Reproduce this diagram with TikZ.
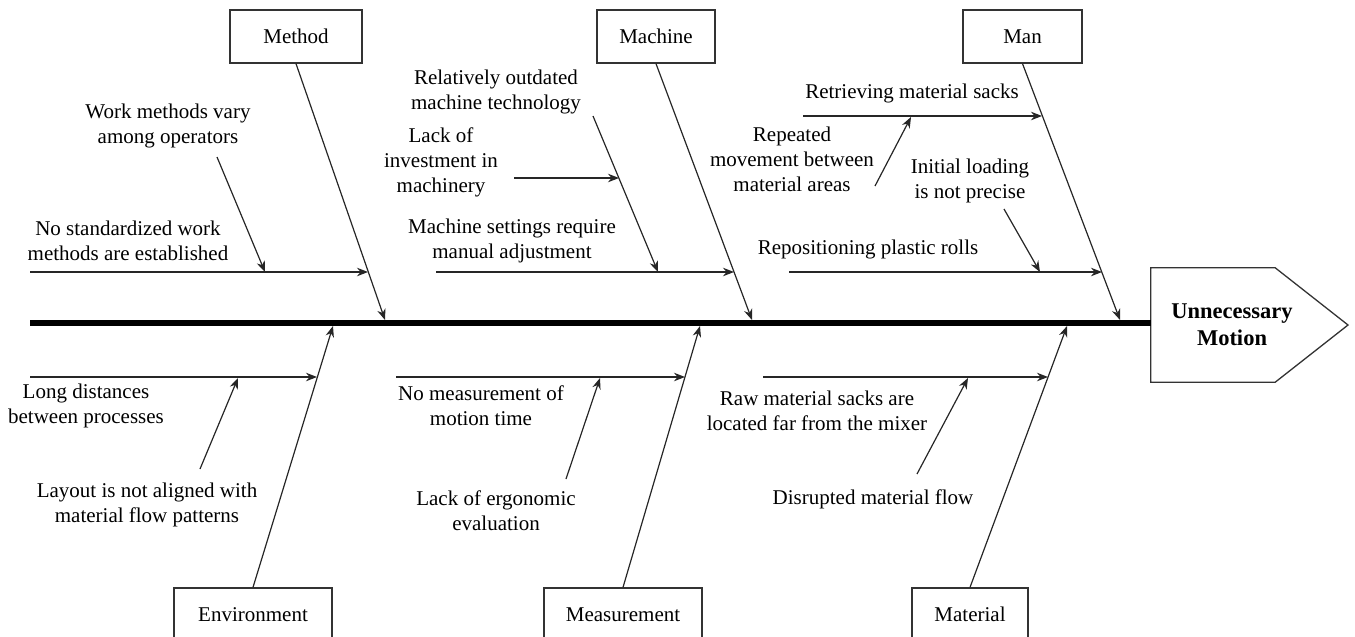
\documentclass[tikz,border=0pt]{standalone}
\usepackage{fontspec}
\setmainfont{Liberation Serif}
\usetikzlibrary{arrows.meta}
\begin{document}
\begin{tikzpicture}[x=1pt,y=-1pt,
  cat/.style={draw=black!80, line width=1.3pt, minimum height=53pt, inner sep=0pt,
              font=\fontsize{21}{25}\selectfont},
  lbl/.style={align=center, inner sep=0pt, font=\fontsize{21}{25}\selectfont},
  bone/.style={draw=black!85, line width=1.2pt, -{Stealth[length=11pt,width=8.5pt]}},
]
\useasboundingbox (0,0) rectangle (1355,637);

% category boxes
\node[cat, minimum width=132pt] (method)  at (296,36.5)   {Method};
\node[cat, minimum width=118pt] (machine) at (656,36.5)   {Machine};
\node[cat, minimum width=119pt] (man)     at (1022.5,36.5) {Man};
\node[cat, minimum width=158pt] (env)     at (253,614.5)  {Environment};
\node[cat, minimum width=158pt] (meas)    at (623,614.5)  {Measurement};
\node[cat, minimum width=116pt] (mat)     at (970,614.5)  {Material};

% effect head
\node[minimum width=124pt, minimum height=114pt, inner sep=0pt] (head) at (1213,325) {};
\coordinate (tip) at (1348,325);
\draw[draw=black!80, line width=1.3pt] (head.north west) -- (head.north east) -- (tip)
  -- (head.south east) -- (head.south west) -- cycle;
\node[align=center, inner sep=0pt, font=\fontsize{22.5}{27}\selectfont\bfseries] (effect)
  at (1232,325) {Unnecessary\\Motion};

% spine
\coordinate (tail) at (30,323);
\draw[line width=6pt] (tail) -- (head.west |- tail);

% anchor points along the bones
\coordinate (mtTip) at (385,320);
\coordinate (mtA) at (368,272);  \coordinate (mtAs) at (30,272);
\coordinate (mtB) at (265,272);  \coordinate (mtBs) at (217,157);

\coordinate (mcTip) at (752,320);
\coordinate (mcA) at (734,272);  \coordinate (mcAs) at (436,272);
\coordinate (mcB) at (658,272);  \coordinate (mcBs) at (593,116);
\coordinate (mcC) at (619,178);  \coordinate (mcCs) at (514,178);

\coordinate (mnTip) at (1120,320);
\coordinate (mnA) at (1042,116); \coordinate (mnAs) at (803,116);
\coordinate (mnB) at (911,117);  \coordinate (mnBs) at (875,186);
\coordinate (mnC) at (1102,272); \coordinate (mnCs) at (789,272);
\coordinate (mnD) at (1040,272); \coordinate (mnDs) at (1004,209);

\coordinate (enTip) at (333,326);
\coordinate (enA) at (317,377);  \coordinate (enAs) at (30,377);
\coordinate (enB) at (238,378);  \coordinate (enBs) at (200,469);

\coordinate (msTip) at (700,326);
\coordinate (msA) at (685,377);  \coordinate (msAs) at (396,377);
\coordinate (msB) at (600,378);  \coordinate (msBs) at (566,479);

\coordinate (maTip) at (1067,326);
\coordinate (maA) at (1048,377); \coordinate (maAs) at (763,377);
\coordinate (maB) at (968,378);  \coordinate (maBs) at (917,474);

% main bones
\draw[bone] (method.south) -- (mtTip);
\draw[bone] (machine.south) -- (mcTip);
\draw[bone] (man.south) -- (mnTip);
\draw[bone] (env.north) -- (enTip);
\draw[bone] (meas.north) -- (msTip);
\draw[bone] (mat.north) -- (maTip);

% Method causes
\draw[bone] (mtAs) -- (mtA);
\draw[bone] (mtBs) -- (mtB);
\node[lbl] (mt1) at (128,241) {No standardized work\\methods are established};
\node[lbl] (mt2) at (168,126) {Work methods vary\\among operators};

% Machine causes
\draw[bone] (mcAs) -- (mcA);
\draw[bone] (mcBs) -- (mcB);
\draw[bone] (mcCs) -- (mcC);
\node[lbl] (mc1) at (512,241) {Machine settings require\\manual adjustment};
\node[lbl] (mc2) at (496,92)  {Relatively outdated\\machine technology};
\node[lbl] (mc3) at (441,162) {Lack of\\investment in\\machinery};

% Man causes
\draw[bone] (mnAs) -- (mnA);
\draw[bone] (mnBs) -- (mnB);
\draw[bone] (mnCs) -- (mnC);
\draw[bone] (mnDs) -- (mnD);
\node[lbl] (mn1) at (912,93)  {Retrieving material sacks};
\node[lbl] (mn2) at (792,159) {Repeated\\movement between\\material areas};
\node[lbl] (mn3) at (868,249) {Repositioning plastic rolls};
\node[lbl] (mn4) at (970,181) {Initial loading\\is not precise};

% Environment causes
\draw[bone] (enAs) -- (enA);
\draw[bone] (enBs) -- (enB);
\node[lbl] (en1) at (86,406)  {Long distances\\between processes};
\node[lbl] (en2) at (147,505) {Layout is not aligned with\\material flow patterns};

% Measurement causes
\draw[bone] (msAs) -- (msA);
\draw[bone] (msBs) -- (msB);
\node[lbl] (ms1) at (481,406) {No measurement of\\motion time};
\node[lbl] (ms2) at (496,511) {Lack of ergonomic\\evaluation};

% Material causes
\draw[bone] (maAs) -- (maA);
\draw[bone] (maBs) -- (maB);
\node[lbl] (ma1) at (817,411) {Raw material sacks are\\located far from the mixer};
\node[lbl] (ma2) at (873,499) {Disrupted material flow};
\end{tikzpicture}
\end{document}
